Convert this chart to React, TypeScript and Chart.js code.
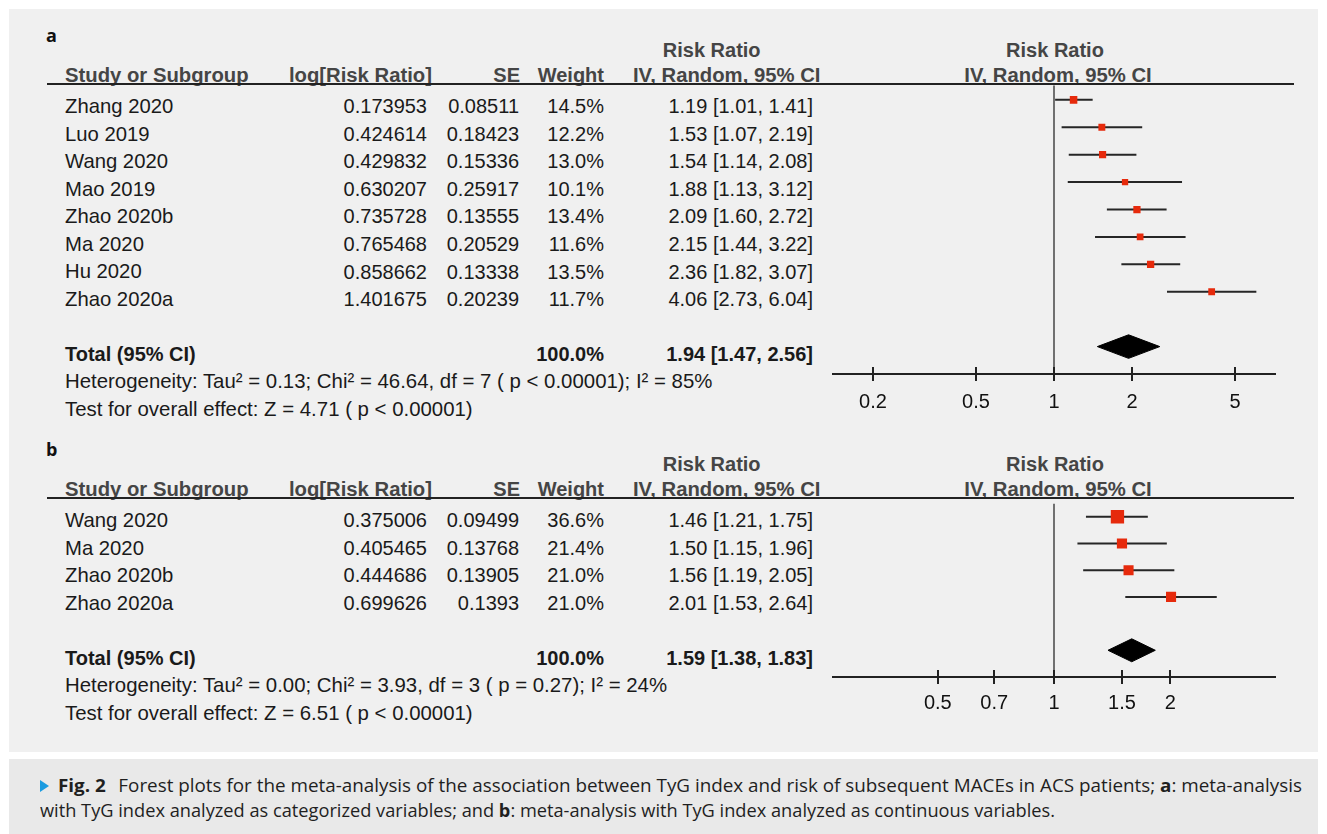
import React, { useEffect, useLayoutEffect, useRef } from "react";
import { Chart, registerables } from "chart.js";
Chart.register(...registerables);

// ---------- Panel a data ----------
const studiesA = ["Zhang 2020", "Luo 2019", "Wang 2020", "Mao 2019", "Zhao 2020b", "Ma 2020", "Hu 2020", "Zhao 2020a"];
const logRRA = ["0.173953", "0.424614", "0.429832", "0.630207", "0.735728", "0.765468", "0.858662", "1.401675"];
const seA = ["0.08511", "0.18423", "0.15336", "0.25917", "0.13555", "0.20529", "0.13338", "0.20239"];
const weightA = [14.5, 12.2, 13.0, 10.1, 13.4, 11.6, 13.5, 11.7];
const rrA = [1.19, 1.53, 1.54, 1.88, 2.09, 2.15, 2.36, 4.06];
const loA = [1.01, 1.07, 1.14, 1.13, 1.6, 1.44, 1.82, 2.73];
const hiA = [1.41, 2.19, 2.08, 3.12, 2.72, 3.22, 3.07, 6.04];
const totalA = [1.94, 1.47, 2.56];
const hetA = "Heterogeneity: Tau² = 0.13; Chi² = 46.64, df = 7 ( p < 0.00001); I² = 85%";
const testA = "Test for overall effect: Z = 4.71 ( p < 0.00001)";
const ticksA = [0.2, 0.5, 1, 2, 5];

// ---------- Panel b data ----------
const studiesB = ["Wang 2020", "Ma 2020", "Zhao 2020b", "Zhao 2020a"];
const logRRB = ["0.375006", "0.405465", "0.444686", "0.699626"];
const seB = ["0.09499", "0.13768", "0.13905", "0.1393"];
const weightB = [36.6, 21.4, 21.0, 21.0];
const rrB = [1.46, 1.5, 1.56, 2.01];
const loB = [1.21, 1.15, 1.19, 1.53];
const hiB = [1.75, 1.96, 2.05, 2.64];
const totalB = [1.59, 1.38, 1.83];
const hetB = "Heterogeneity: Tau² = 0.00; Chi² = 3.93, df = 3 ( p = 0.27); I² = 24%";
const testB = "Test for overall effect: Z = 6.51 ( p < 0.00001)";
const ticksB = [0.5, 0.7, 1, 1.5, 2];

const FONT = '"Liberation Sans", Arial, Helvetica, sans-serif';
const CAPFONT = '"Open Sans", "Noto Sans", sans-serif';
const TEXT = "#1a1a1a";
const HEAD = "#454545";
const RED = "#e62a0c";
const ROW = 27.55;

const ci = (r: number, l: number, h: number) => `${r.toFixed(2)} [${l.toFixed(2)}, ${h.toFixed(2)}]`;

function Txt(props: any) {
  const { x, y, children, align = "left", bold = false, color = TEXT, size = 20, family = FONT } = props;
  const tx = align === "right" ? "translateX(-100%)" : align === "center" ? "translateX(-50%)" : "none";
  return (
    <div
      style={{
        position: "absolute",
        left: x,
        top: y - 0.8465 * size,
        fontFamily: family,
        fontSize: size,
        lineHeight: `${size}px`,
        fontWeight: bold ? 700 : 400,
        color,
        whiteSpace: "nowrap",
        transform: tx,
      }}
    >
      {children}
    </div>
  );
}

const crossTicks = {
  id: "crossTicks",
  afterDraw(chart: any) {
    const xs = chart.scales.x;
    const y0 = chart.chartArea.bottom;
    const ctx = chart.ctx;
    ctx.save();
    ctx.strokeStyle = "#222";
    ctx.lineWidth = 2;
    ctx.beginPath();
    for (const t of xs.ticks) {
      const px = Math.round(xs.getPixelForValue(t.value));
      ctx.moveTo(px, y0 - 7);
      ctx.lineTo(px, y0);
    }
    ctx.stroke();
    ctx.restore();
  },
};

function ForestChart(props: any) {
  const { left, top, width, areaLeft, areaWidth, rr, lo, hi, weight, total, ticks, xMin, xMax, yMin, yMax, sq, labelPad } = props;
  const ref = useRef<HTMLCanvasElement>(null);
  const areaHeight = (yMax - yMin) * ROW;
  const height = Math.round(4 + areaHeight + 50);
  useEffect(() => {
    const n = rr.length;
    const tRow = n + 1;
    const dh = 0.43;
    const datasets: any[] = [
      {
        type: "scatter",
        data: rr.map((v: number, i: number) => ({ x: v, y: i })),
        pointStyle: "rect",
        pointRadius: weight.map((w: number) => (sq * Math.sqrt(w)) / Math.SQRT2),
        backgroundColor: RED,
        borderColor: RED,
        borderWidth: 0,
        order: 0,
      },
      {
        type: "line",
        data: [
          { x: total[1], y: tRow },
          { x: total[0], y: tRow - dh },
          { x: total[2], y: tRow },
          { x: total[0], y: tRow + dh },
          { x: total[1], y: tRow },
        ],
        borderColor: "#000",
        backgroundColor: "#000",
        borderWidth: 1,
        fill: "shape",
        pointRadius: 0,
        tension: 0,
        order: 1,
      },
      ...lo.map((l: number, i: number) => ({
        type: "line",
        data: [
          { x: l, y: i },
          { x: hi[i], y: i },
        ],
        borderColor: "#262626",
        borderWidth: 2,
        pointRadius: 0,
        order: 2,
      })),
      {
        type: "line",
        data: [
          { x: 1, y: yMin },
          { x: 1, y: yMax },
        ],
        borderColor: "#707070",
        borderWidth: 2,
        pointRadius: 0,
        order: 3,
      },
    ];
    const chart = new Chart(ref.current as HTMLCanvasElement, {
      type: "scatter",
      data: { datasets },
      plugins: [crossTicks],
      options: {
        responsive: false,
        animation: false,
        devicePixelRatio: 1,
        events: [],
        layout: { padding: { left: areaLeft, right: width - areaLeft - areaWidth, top: 4, bottom: 0 } },
        plugins: { legend: { display: false }, tooltip: { enabled: false } },
        scales: {
          x: {
            type: "logarithmic",
            bounds: "data",
            min: xMin,
            max: xMax,
            afterBuildTicks: (s: any) => {
              s.ticks = ticks.map((v: number) => ({ value: v }));
            },
            afterFit: (s: any) => {
              s.height = 50;
            },
            ticks: {
              autoSkip: false,
              maxRotation: 0,
              minRotation: 0,
              padding: labelPad,
              color: "#111",
              font: { family: FONT, size: 20 },
              callback: (v: any) => String(v),
            },
            grid: { display: true, drawOnChartArea: false, drawTicks: true, tickLength: 7, color: "#222", lineWidth: 2 },
            border: { display: true, color: "#222", width: 2 },
          },
          y: { type: "linear", display: false, reverse: true, min: yMin, max: yMax },
        },
      } as any,
    });
    return () => chart.destroy();
  }, []);
  return (
    <canvas
      ref={ref}
      width={width}
      height={height}
      style={{ position: "absolute", left, top, width, height }}
    />
  );
}

function Panel(props: any) {
  const { label, hl, studies, logRR, se, weight, rr, lo, hi, total, het, test, ticks, yMin, sq, labelPad } = props;
  const n = studies.length;
  const first = hl + 29.2;
  const yMax = n + 2;
  const xr = props.xRange;
  return (
    <>
      <Txt x={46} y={hl - 43} bold size={18} family={CAPFONT} color="#111">
        {label}
      </Txt>
      <Txt x={711.7} y={hl - 27.5} align="center" bold color={HEAD}>Risk Ratio</Txt>
      <Txt x={1055} y={hl - 27.5} align="center" bold color={HEAD}>Risk Ratio</Txt>
      <Txt x={65} y={hl - 2} bold color={HEAD} size={20.3}>Study or Subgroup</Txt>
      <Txt x={432} y={hl - 2} align="right" bold color={HEAD} size={20.3}>log[Risk Ratio]</Txt>
      <Txt x={520} y={hl - 2} align="right" bold color={HEAD}>SE</Txt>
      <Txt x={604} y={hl - 2} align="right" bold color={HEAD}>Weight</Txt>
      <Txt x={726.7} y={hl - 2} align="center" bold color={HEAD} size={20.3}>IV, Random, 95% CI</Txt>
      <Txt x={1058} y={hl - 2} align="center" bold color={HEAD} size={20.3}>IV, Random, 95% CI</Txt>
      <div style={{ position: "absolute", left: 47, top: hl - 1, width: 1247, height: 2, background: "#222" }} />
      {studies.map((s: string, i: number) => (
        <React.Fragment key={s}>
          <Txt x={65} y={first + i * ROW} size={20.3}>{s}</Txt>
          <Txt x={427} y={first + i * ROW} align="right">{logRR[i]}</Txt>
          <Txt x={519} y={first + i * ROW} align="right">{se[i]}</Txt>
          <Txt x={604} y={first + i * ROW} align="right">{weight[i].toFixed(1)}%</Txt>
          <Txt x={813} y={first + i * ROW} align="right">{ci(rr[i], lo[i], hi[i])}</Txt>
        </React.Fragment>
      ))}
      <Txt x={65} y={first + (n + 1) * ROW} bold>Total (95% CI)</Txt>
      <Txt x={604} y={first + (n + 1) * ROW} align="right" bold>100.0%</Txt>
      <Txt x={813} y={first + (n + 1) * ROW} align="right" bold>{ci(total[0], total[1], total[2])}</Txt>
      <Txt x={65} y={first + (n + 2) * ROW} size={20.4}>{het}</Txt>
      <Txt x={65} y={first + (n + 3) * ROW} size={20.4}>{test}</Txt>
      <ForestChart
        left={820}
        top={hl - 4}
        width={480}
        areaLeft={13}
        areaWidth={442}
        rr={rr}
        lo={lo}
        hi={hi}
        weight={weight}
        total={total}
        ticks={ticks}
        xMin={xr[0]}
        xMax={xr[1]}
        yMin={yMin}
        yMax={yMax}
        sq={sq}
        labelPad={labelPad}
      />
    </>
  );
}

function FitLine(props: any) {
  const { x, baseline, target, size, children } = props;
  const ref = useRef<HTMLDivElement>(null);
  useLayoutEffect(() => {
    const el = ref.current;
    if (!el) return;
    el.style.transform = "none";
    const w = el.getBoundingClientRect().width;
    if (w > 0) el.style.transform = `scaleX(${target / w})`;
  }, []);
  return (
    <div
      ref={ref}
      style={{
        position: "absolute",
        left: x,
        top: baseline - 0.888 * size,
        fontFamily: CAPFONT,
        fontSize: size,
        lineHeight: `${size}px`,
        whiteSpace: "nowrap",
        transformOrigin: "0 0",
        color: "#1f1f1f",
      }}
    >
      {children}
    </div>
  );
}

export default function App() {
  return (
    <div style={{ position: "absolute", left: 0, top: 0, width: 1327, height: 834, background: "#fff", overflow: "hidden" }}>
      <div style={{ position: "absolute", left: 9, top: 9, width: 1309, height: 743, background: "#f0f0f0" }} />
      <div style={{ position: "absolute", left: 9, top: 759, width: 1309, height: 75, background: "#e9e9e9" }} />
      <Panel
        label="a"
        hl={84}
        studies={studiesA}
        logRR={logRRA}
        se={seA}
        weight={weightA}
        rr={rrA}
        lo={loA}
        hi={hiA}
        total={totalA}
        het={hetA}
        test={testA}
        ticks={ticksA}
        xRange={[Math.pow(10, -0.853), Math.pow(10, 0.853)]}
        yMin={-0.53}
        sq={1.98}
        labelPad={9}
      />
      <Panel
        label="b"
        hl={498}
        studies={studiesB}
        logRR={logRRB}
        se={seB}
        weight={weightB}
        rr={rrB}
        lo={loB}
        hi={hiB}
        total={totalB}
        het={hetB}
        test={testB}
        ticks={ticksB}
        xRange={[Math.pow(10, -0.5725), Math.pow(10, 0.5725)]}
        yMin={-0.5}
        sq={2.2}
        labelPad={7}
      />
      <div
        style={{
          position: "absolute",
          left: 40,
          top: 780,
          width: 0,
          height: 0,
          borderTop: "6px solid transparent",
          borderBottom: "6px solid transparent",
          borderLeft: "9px solid #1a9be0",
        }}
      />
      <FitLine x={58} baseline={791.5} target={1244} size={18}>
        <b>Fig. 2</b>
        <span style={{ display: "inline-block", width: 12 }} />
        Forest plots for the meta-analysis of the association between TyG index and risk of subsequent MACEs in ACS patients; <b>a</b>: meta-analysis
      </FitLine>
      <FitLine x={40} baseline={816.5} target={1015} size={18}>
        with TyG index analyzed as categorized variables; and <b>b</b>: meta-analysis with TyG index analyzed as continuous variables.
      </FitLine>
    </div>
  );
}
